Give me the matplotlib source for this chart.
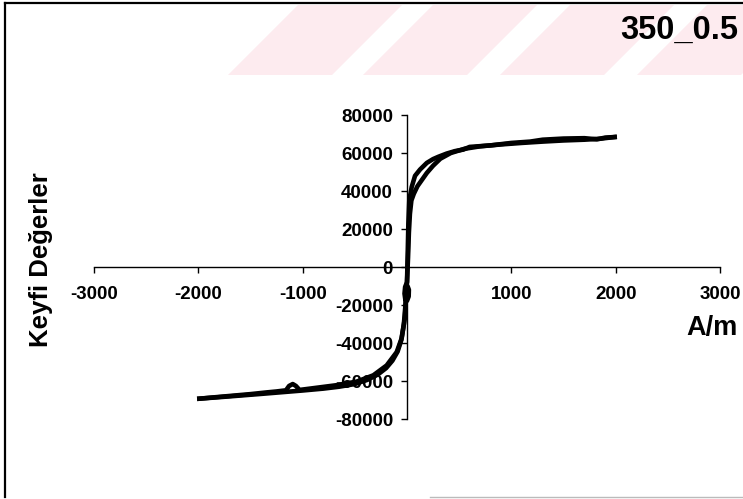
import numpy as np
import matplotlib.pyplot as plt
from matplotlib.patches import Polygon
from matplotlib.lines import Line2D

plt.rcParams['font.family'] = ['Liberation Sans', 'DejaVu Sans']
plt.rcParams['font.weight'] = 'bold'
plt.rcParams['axes.unicode_minus'] = False

# descending branch (from +H saturation down to -H)
h_down = [1990, 1900, 1820, 1700, 1500, 1300, 1180, 1000, 800, 600, 540, 460,
          380, 300, 250, 190, 125, 77, 45, 22, 13, 6, 0,
          -18, -24, -16, 0, 16, 18, 6, -10,
          -19, -35, -51, -99, -195, -323, -482, -674, -930, -1030, -1065,
          -1095, -1130, -1160, -1250, -1345, -1500, -1665, -1850, -1990]
m_down = [68400, 68100, 67200, 67800, 67600, 67000, 66000, 65300, 64000, 63200,
          61800, 61000, 59700, 58000, 56800, 54800, 51300, 48000, 42100, 35100,
          22800, 5300, -8000,
          -10500, -14000, -17200, -17800, -15500, -12000, -10200, -16000,
          -26300, -32000, -37500, -44800, -51800, -57000, -60300, -62200,
          -64000, -64700, -62600, -61600, -62600, -64900, -65500, -66000,
          -66900, -67700, -68600, -69300]

# ascending branch (from -H saturation back up to +H)
h_up = [-1990, -1700, -1400, -1200, -1000, -800, -650, -500, -380, -280, -200,
        -140, -90, -55, -30, -12, 0, 10, 18, 28, 42, 65, 100, 145, 190, 250,
        320, 420, 550, 700, 900, 1100, 1300, 1500, 1700, 1850, 1990]
m_up = [-69300, -68100, -66800, -65900, -65000, -64000, -63000, -61600, -59400,
        -56600, -53200, -49300, -44500, -38500, -30000, -18000, -8000, 5000,
        18000, 28000, 35000, 38500, 42500, 46000, 49500, 53300, 57000, 60000,
        62200, 63500, 64500, 65300, 66000, 66600, 67000, 67500, 68400]

x_ticks = [-3000, -2000, -1000, 1000, 2000, 3000]
y_ticks = [-80000, -60000, -40000, -20000, 0, 20000, 40000, 60000, 80000]

W, H = 743, 499
fig = plt.figure(figsize=(W / 100, H / 100), dpi=100)


def px(x, y):
    return (x / W, 1 - y / H)


# pale diagonal band behind the title
for x0 in [228, 363, 500, 637]:
    pts = [px(x0, 75), px(x0 + 104, 75), px(x0 + 174, 5), px(x0 + 70, 5)]
    fig.patches.append(Polygon(pts, closed=True, transform=fig.transFigure,
                               facecolor='#fdebef', edgecolor='none', zorder=0))

# page frame
fig.lines.append(Line2D([5 / W, 5 / W], [1 - 3 / H, 1 - 497 / H],
                        transform=fig.transFigure, color='black', lw=1.6))
fig.lines.append(Line2D([5 / W, 1], [1 - 3 / H, 1 - 3 / H],
                        transform=fig.transFigure, color='black', lw=1.6))
fig.lines.append(Line2D([430 / W, 1], [1 - 497 / H, 1 - 497 / H],
                        transform=fig.transFigure, color='#bbbbbb', lw=1.0))

ax = fig.add_axes([94 / W, 1 - 419 / H, (720 - 94) / W, (419 - 115) / H])
ax.patch.set_alpha(0)

ax.plot(h_up, m_up, color='black', lw=3.3, solid_joinstyle='round')
ax.plot(h_down, m_down, color='black', lw=3.3, solid_joinstyle='round')

ax.set_xlim(-3000, 3000)
ax.set_ylim(-80000, 80000)
ax.spines['left'].set_position(('data', 0))
ax.spines['bottom'].set_position(('data', 0))
ax.spines['top'].set_visible(False)
ax.spines['right'].set_visible(False)
for s in ['left', 'bottom']:
    ax.spines[s].set_linewidth(1.0)
ax.set_xticks(x_ticks)
ax.set_yticks(y_ticks)
ax.set_xticklabels([str(v) for v in x_ticks])
ax.set_yticklabels([str(v) for v in y_ticks])
ax.tick_params(axis='x', direction='out', length=4, width=1, pad=10,
               labelsize=13.5)
ax.tick_params(axis='y', direction='out', length=4, width=1, pad=6,
               labelsize=13.5)

fig.text(738 / W, 1 - 30 / H, '350_0.5', ha='right', va='center',
         fontsize=23.5, fontweight='bold')
fig.text(738 / W, 1 - 328 / H, 'A/m', ha='right', va='center',
         fontsize=19.5, fontweight='bold')
fig.text(41 / W, 1 - 260 / H, 'Keyfi Değerler', ha='center', va='center',
         rotation=90, fontsize=18.5, fontweight='bold')

fig.savefig('out.png', dpi=100, facecolor='white')
